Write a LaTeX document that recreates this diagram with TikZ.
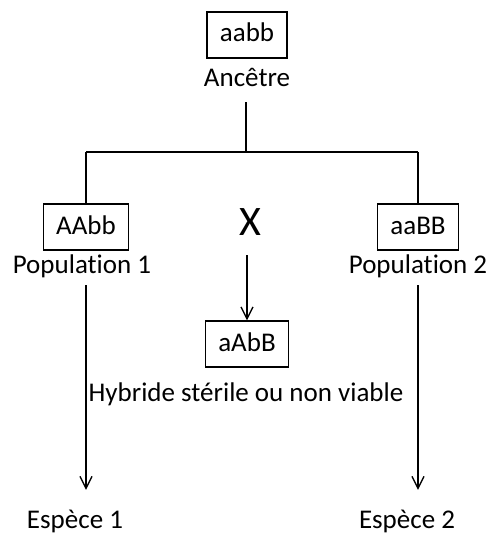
\documentclass[tikz,border=0pt]{standalone}
\usepackage{fontspec}
\setmainfont[Ligatures=NoCommon]{Carlito}
\usepackage{tikz}
\usetikzlibrary{arrows.meta}

\tikzset{
  lbl/.style={inner sep=0pt, text height=20pt, text depth=6pt,
    font=\fontsize{27}{32}\selectfont},
  genobox/.style={lbl, draw, line width=1.3pt, inner xsep=13pt, inner ysep=10pt},
  crossmark/.style={inner sep=0pt, text height=28pt, text depth=0pt,
    font=\fontsize{42}{48}\selectfont},
  link/.style={line width=1.3pt},
  arr/.style={link, -{Straight Barb[length=12pt, width=12pt, line width=1.3pt]}}
}

\begin{document}
\begin{tikzpicture}[x=1pt, y=-1pt]

    \useasboundingbox (0,0) rectangle (486,534);

    % Ancestor
    \node[genobox] (aabb) at (247,35) {aabb};
    \node[lbl] (ancetre) at (247,80) {Ancêtre};

    % Two populations
    \node[genobox] (AAbb) at (86,227) {AAbb};
    \node[lbl] (pop1) at (82,266) {Population 1};
    \node[genobox] (aaBB) at (418,227) {aaBB};
    \node[lbl] (pop2) at (418,266) {Population 2};

    % Cross and hybrid
    \node[crossmark] (cross) at (250,221) {X};
    \node[genobox] (aAbB) at (247,344) {aAbB};
    \node[lbl] (hybride) at (246,394) {Hybride stérile ou non viable};

    % Species
    \node[lbl] (esp1) at (75,521) {Espèce 1};
    \node[lbl] (esp2) at (407,521) {Espèce 2};

    % Split of the ancestor
    \coordinate (split) at (246,152);
    \coordinate (left) at (AAbb.north |- split);
    \coordinate (right) at (aaBB.north |- split);
    \draw[link, shorten <=9pt] (split |- ancetre.south) -- (split);
    \draw[link] (left) -- (right);
    \draw[link] (left) -- (AAbb.north);
    \draw[link] (right) -- (aaBB.north);

    % Arrows
    \draw[arr, shorten <=20pt] (aAbB.north |- cross.south) -- (aAbB.north);
    \draw[arr, shorten <=6pt, shorten >=18pt] (left |- pop1.south) -- (left |- esp1.north);
    \draw[arr, shorten <=6pt, shorten >=18pt] (right |- pop2.south) -- (right |- esp2.north);

\end{tikzpicture}
\end{document}
